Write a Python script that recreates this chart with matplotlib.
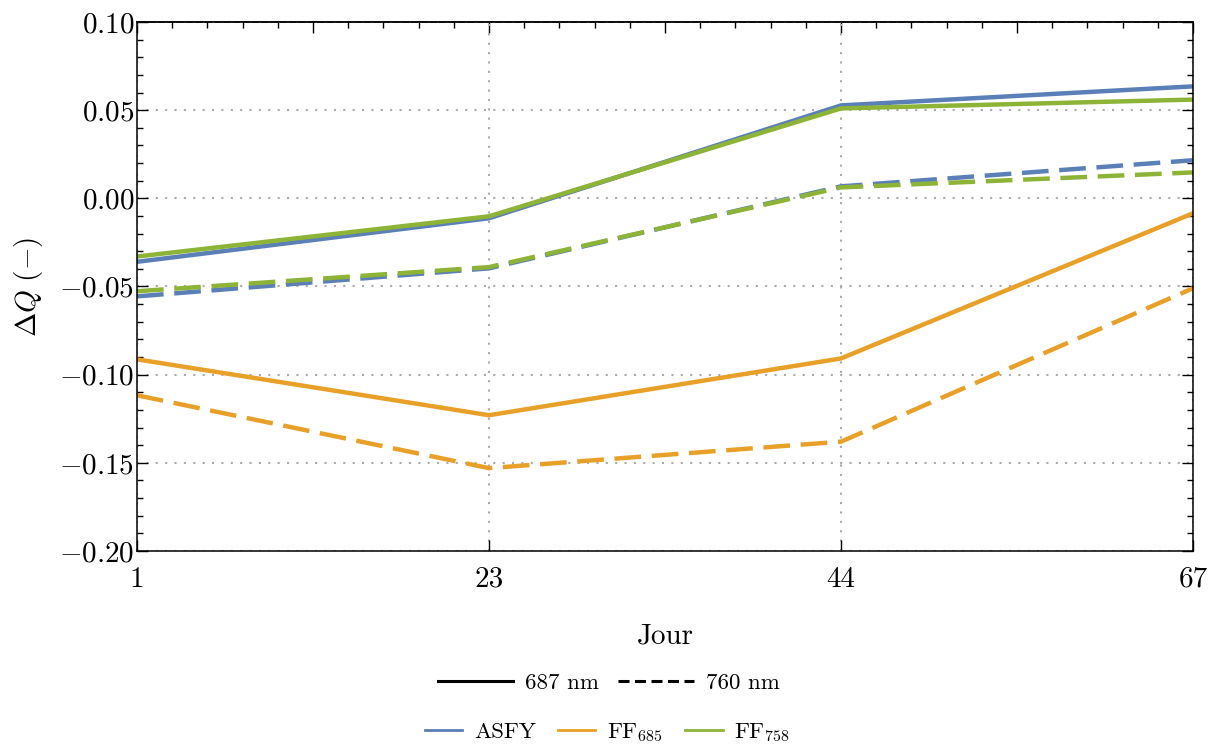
import numpy as np
import matplotlib.pyplot as plt
from matplotlib.lines import Line2D
from matplotlib.ticker import MultipleLocator, FuncFormatter

plt.rcParams['font.family'] = 'serif'
plt.rcParams['font.serif'] = ['cmr10']
plt.rcParams['mathtext.fontset'] = 'cm'
plt.rcParams['axes.unicode_minus'] = True

jours = ['1', '23', '44', '67']

# 687 nm (traits pleins)
asfy_687 = [-0.036, -0.0113, 0.0527, 0.0635]
ff685_687 = [-0.0913, -0.123, -0.0908, -0.0085]
ff758_687 = [-0.033, -0.0102, 0.051, 0.056]

# 760 nm (tirets)
asfy_760 = [-0.0556, -0.0397, 0.0068, 0.0216]
ff685_760 = [-0.1117, -0.153, -0.138, -0.051]
ff758_760 = [-0.0527, -0.039, 0.0062, 0.0147]

c_asfy = '#5b7fb7'
c_685 = '#e8a029'
c_758 = '#8db337'

x = np.arange(len(jours))

fig = plt.figure(figsize=(12.1, 7.47), dpi=100)
ax = fig.add_axes([137/1210, 1-551/747, (1193-137)/1210, (551-22)/747])

lw = 3.2
dash = (0, (6, 2.4))
ax.plot(x, asfy_687, color=c_asfy, lw=lw)
ax.plot(x, ff685_687, color=c_685, lw=lw)
ax.plot(x, ff758_687, color=c_758, lw=lw)
ax.plot(x, asfy_760, color=c_asfy, lw=lw, ls=dash)
ax.plot(x, ff685_760, color=c_685, lw=lw, ls=dash)
ax.plot(x, ff758_760, color=c_758, lw=lw, ls=dash)

ax.set_xlim(0, 3)
ax.set_ylim(-0.2, 0.1)
ax.set_xticks(x)
ax.set_xticklabels(jours)
ax.yaxis.set_major_locator(MultipleLocator(0.05))
ax.yaxis.set_minor_locator(MultipleLocator(0.01))
ax.yaxis.set_major_formatter(FuncFormatter(lambda v, p: f'${v:.2f}$'))

ax.tick_params(axis='x', which='both', direction='in', top=False, bottom=True,
               length=8, width=1, labelsize=21, pad=11)
ax.tick_params(axis='y', which='major', direction='in', left=True, right=True,
               length=8, width=1, labelsize=21, pad=2)
ax.tick_params(axis='y', which='minor', direction='in', left=True, right=True,
               length=4, width=1)

sec = ax.secondary_xaxis('top')
sec.xaxis.set_major_locator(MultipleLocator(0.5))
sec.xaxis.set_minor_locator(MultipleLocator(0.1))
sec.tick_params(which='major', direction='in', length=8, width=1, labeltop=False)
sec.tick_params(which='minor', direction='in', length=4, width=1)

for s in ax.spines.values():
    s.set_linewidth(1.1)
sec.spines['top'].set_linewidth(1.1)

ax.grid(True, which='major', ls=(0, (1, 3.5)), color='#aaaaaa', lw=1.5)

ax.set_xlabel('Jour', fontsize=21, labelpad=22)
ax.set_ylabel(r'$\Delta Q\ (-)$', fontsize=21, labelpad=10)

h1 = [Line2D([], [], color='black', lw=2.2),
      Line2D([], [], color='black', lw=2.2, ls=(0, (3.6, 1.8)))]
leg1 = fig.legend(h1, ['687 nm', '760 nm'], loc='center', bbox_to_anchor=(0.503, 0.086),
                  ncol=2, frameon=False, fontsize=16.5, handlelength=3.3,
                  handletextpad=0.5, columnspacing=0.85)

h2 = [Line2D([], [], color=c_asfy, lw=2),
      Line2D([], [], color=c_685, lw=2),
      Line2D([], [], color=c_758, lw=2)]
leg2 = fig.legend(h2, ['ASFY', r'FF$_{685}$', r'FF$_{758}$'], loc='center',
                  bbox_to_anchor=(0.502, 0.02), ncol=3, frameon=False, fontsize=16.5,
                  handlelength=1.65, handletextpad=0.5, columnspacing=0.95)

fig.savefig('out.png', dpi=100)
